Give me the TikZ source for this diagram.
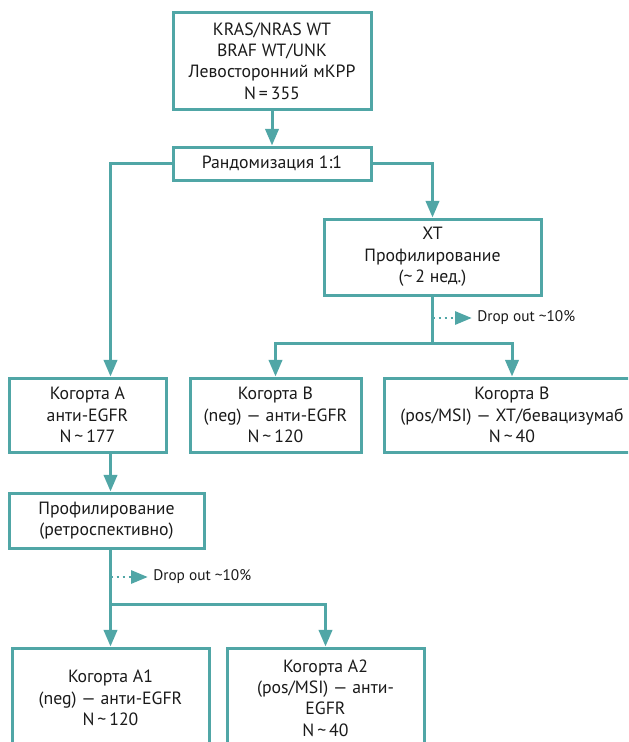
\documentclass[tikz,border=0pt]{standalone}
\usepackage{fontspec}
\setmainfont{PT Sans}
\usetikzlibrary{arrows.meta}
\definecolor{tealline}{RGB}{80,166,166}
\definecolor{ink}{RGB}{26,26,26}
\tikzset{
  box/.style={draw=tealline, line width=2.25pt, align=center, text=ink,
    font=\fontsize{13.3}{16}\selectfont, inner sep=0pt},
  boxsize/.style 2 args={minimum width=#1*0.75pt, minimum height=#2*0.75pt},
  link/.style={draw=tealline, line width=2.25pt},
  arr/.style={link, -{Triangle[length=12.5pt,width=10pt]}},
  dropline/.style={draw=tealline, line width=1.5pt, dash pattern=on 1.5pt off 3pt,
    -{Triangle[length=12.5pt,width=10pt]}},
  droptext/.style={font=\fontsize{11.5}{13}\selectfont, text=ink, anchor=west, inner sep=0pt}
}
\begin{document}
\begin{tikzpicture}[x=0.75pt,y=-0.75pt]
\useasboundingbox (0,0) rectangle (628,742);
\clip (0,0) rectangle (628,742);
\node[box, boxsize={198}{96}] (top) at (272,61) {KRAS/NRAS WT\\BRAF WT/UNK\\Левосторонний мКРР\\N\,=\,355};
\node[box, boxsize={198}{33}] (rand) at (272,163.5) {Рандомизация 1:1};
\node[box, boxsize={217}{76}] (xt) at (432.5,257) {ХТ\\Профилирование\\(\textasciitilde\,2 нед.)};
\node[box, boxsize={157}{74}] (cohA) at (87.5,415) {Когорта А\\анти-EGFR\\N\,\textasciitilde\,177};
\node[box, boxsize={171}{74}] (cohBneg) at (275.5,415) {Когорта В\\(neg) — анти-EGFR\\N\,\textasciitilde\,120};
\node[box, boxsize={256}{74}] (cohBpos) at (512,415) {Когорта В\\(pos/MSI) — ХТ/бевацизумаб\\N\,\textasciitilde\,40};
\node[box, boxsize={195}{55}] (prof) at (106.5,520.5) {Профилирование\\(ретроспективно)};
\node[box, boxsize={197}{100}] (A1) at (110.5,698) {Когорта А1\\(neg) — анти-EGFR\\N\,\textasciitilde\,120};
\node[box, boxsize={197}{100}] (A2) at (325.5,698) {Когорта А2\\(pos/MSI) — анти-\\EGFR\\N\,\textasciitilde\,40};
\node[droptext] (dropBtxt) at (477,318) {Drop out \textasciitilde10\%};
\node[droptext] (dropAtxt) at (153,577) {Drop out \textasciitilde10\%};
\coordinate (dropB) at (432.5,318);
\coordinate (splitB) at (432.5,343);
\coordinate (dropA) at (110.5,577);
\coordinate (splitA) at (110.5,604);
\draw[arr] (top) -- (rand);
\draw[arr] (rand.west) -| (cohA.north -| A1.north);
\draw[arr] (rand.east) -| (xt.north);
\draw[link] (xt.south) -- (splitB);
\draw[arr] (splitB) -| (cohBneg.north);
\draw[arr] (splitB) -| (cohBpos.north);
\draw[dropline] (dropB) -- ([xshift=-4pt]dropBtxt.west);
\draw[arr] (cohA.south -| A1.north) -- (prof.north -| A1.north);
\draw[link] (prof.south -| A1.north) -- (splitA);
\draw[arr] (splitA) -- (A1.north);
\draw[arr] (splitA) -| (A2.north);
\draw[dropline] (dropA) -- ([xshift=-4pt]dropAtxt.west);
\end{tikzpicture}
\end{document}
